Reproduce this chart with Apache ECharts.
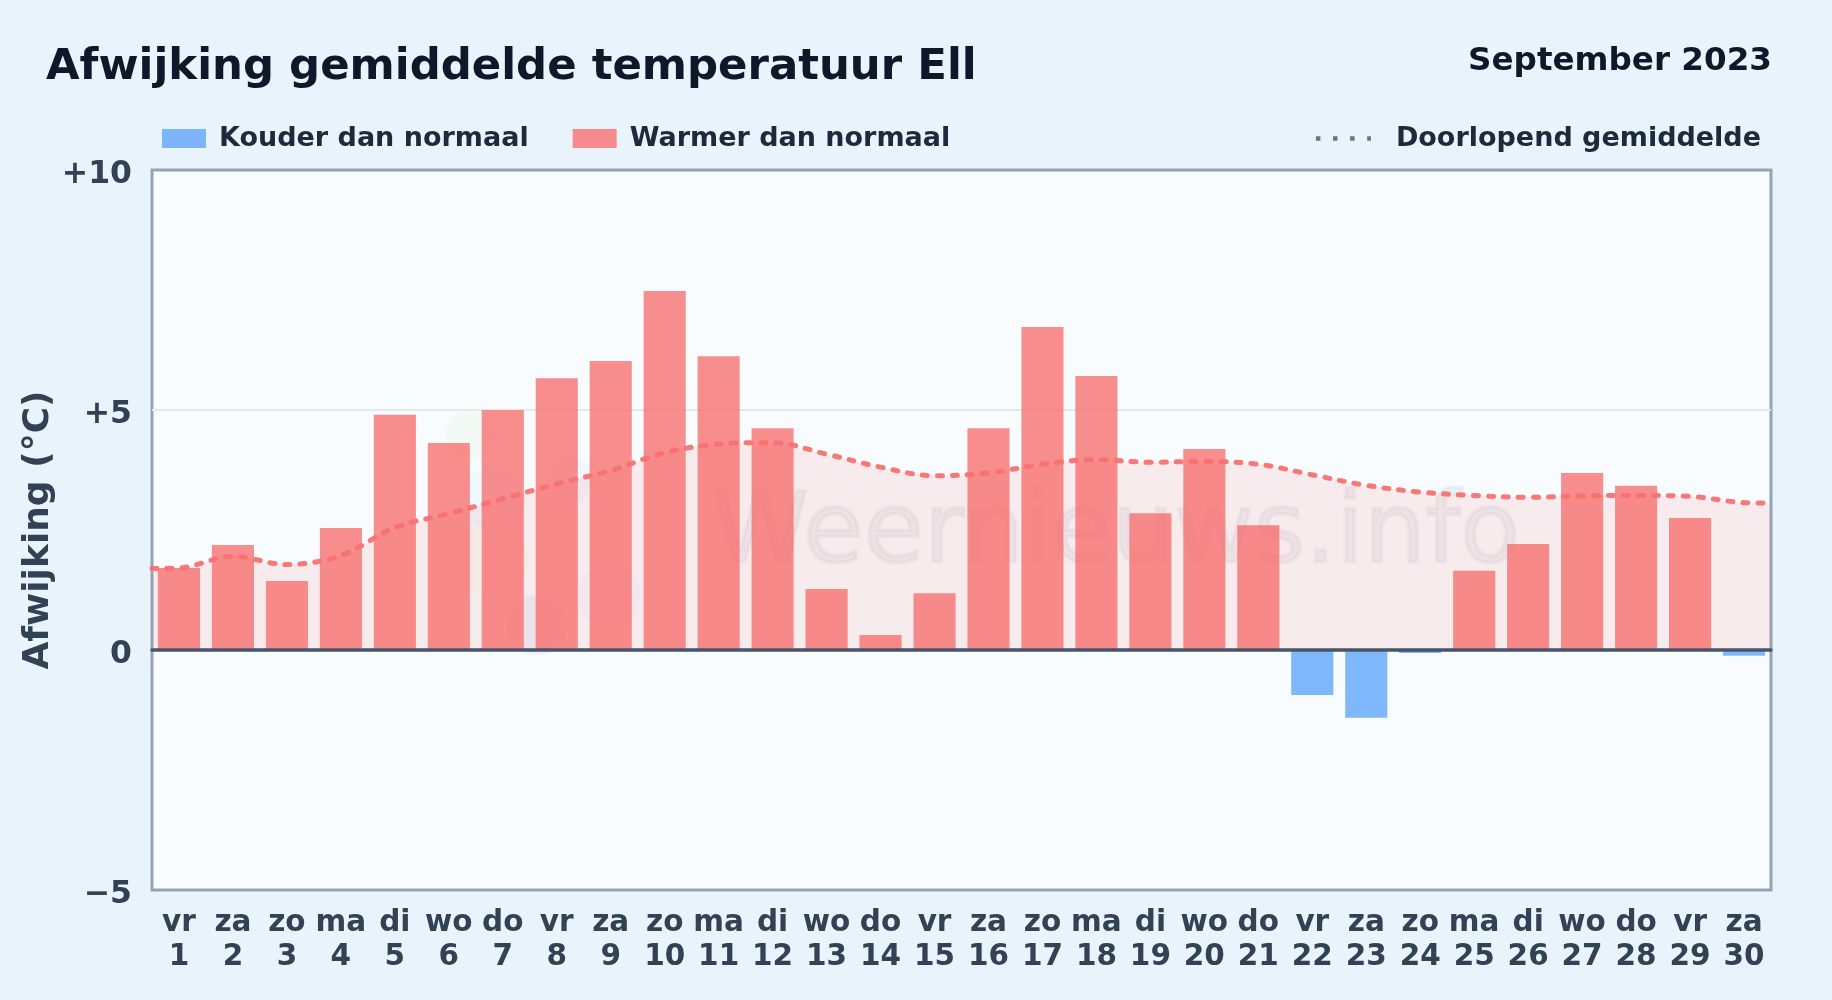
<!DOCTYPE html>
<html><head><meta charset="utf-8">
<style>html,body{margin:0;padding:0;background:#e8f3fc}#c{width:1832px;height:1000px}</style>
<script src="https://cdn.jsdelivr.net/npm/echarts@6/dist/echarts.min.js"></script>
</head><body><div id="c"></div>
<script>
const titleText = 'Afwijking gemiddelde temperatuur Ell';
const periodText = 'September 2023';
const weekdays = ['vr','za','zo','ma','di','wo','do','vr','za','zo','ma','di','wo','do','vr','za','zo','ma','di','wo','do','vr','za','zo','ma','di','wo','do','vr','za'];
const days = ['1','2','3','4','5','6','7','8','9','10','11','12','13','14','15','16','17','18','19','20','21','22','23','24','25','26','27','28','29','30'];
const deviations = [1.71,2.19,1.44,2.54,4.90,4.31,5.00,5.66,6.02,7.48,6.12,4.62,1.27,0.31,1.18,4.62,6.73,5.71,2.85,4.19,2.60,-0.94,-1.41,-0.06,1.65,2.21,3.69,3.42,2.75,-0.12];
const runningMean = [1.71,1.95,1.78,1.97,2.55,2.84,3.15,3.46,3.74,4.11,4.29,4.32,4.08,3.81,3.63,3.69,3.87,3.97,3.91,3.93,3.87,3.65,3.43,3.29,3.22,3.18,3.21,3.22,3.20,3.07];
const lineStartValue = 1.70, lineEndValue = 3.06;
const yTicks = {'10':'+10','5':'+5','0':'0','-5':'\u22125'};

const F = '"DejaVu Sans"';
const RED = 'rgba(248,113,113,0.8)', BLUE = 'rgba(96,165,250,0.8)';
const chart = echarts.init(document.getElementById('c'), null, {renderer:'canvas'});
const cats = weekdays.map((w,i)=>w+'\n'+days[i]);
const linePts = [[0.5,lineStartValue]].concat(runningMean.map((v,i)=>[i+1,v]),[[30.5,lineEndValue]]);
const blob = (cx,cy,r,fill)=>({type:'circle',z:1,silent:true,shape:{cx,cy,r},style:{fill,shadowBlur:18,shadowColor:fill}});
chart.setOption({
  animation:false,
  backgroundColor:'#e8f3fc',
  title:[
    {text:titleText,left:41,top:41,textStyle:{fontFamily:F,fontWeight:'bold',fontSize:43.4,color:'#0f172a'}},
    {text:periodText,right:55,top:40,textStyle:{fontFamily:F,fontWeight:'bold',fontSize:32.6,color:'#0f172a'}}
  ],
  legend:[
    {left:157,top:120,itemWidth:44,itemHeight:19,itemGap:44,icon:'rect',
     data:['Kouder dan normaal','Warmer dan normaal'],
     textStyle:{fontFamily:F,fontWeight:'bold',fontSize:27,color:'#1e293b',padding:[0,0,0,8]}},
    {right:66,top:120,itemWidth:55,itemHeight:19,
     data:[{name:'Doorlopend gemiddelde',itemStyle:{opacity:0}}],
     lineStyle:{color:'#64748b',width:4.5,type:[4.5,12.6],cap:'butt'},
     textStyle:{fontFamily:F,fontWeight:'bold',fontSize:27,color:'#1e293b',padding:[0,0,0,20]}}
  ],
  grid:{left:152,top:170,width:1619,height:720,show:true,backgroundColor:'#f8fcff',borderColor:'#94a3b8',borderWidth:3,containLabel:false},
  xAxis:[
    {type:'category',data:cats,position:'bottom',axisLine:{show:false,onZero:false},axisTick:{show:false},
     axisLabel:{interval:0,margin:16,fontFamily:F,fontWeight:'bold',fontSize:29.5,lineHeight:34,color:'#334155'},splitLine:{show:false}},
    {type:'value',min:0.5,max:30.5,show:true,position:'bottom',z:6,axisLine:{show:true,onZero:true,lineStyle:{color:'#475569',width:3.5}},
     axisTick:{show:false},axisLabel:{show:false},splitLine:{show:false}}
  ],
  yAxis:{type:'value',min:-5,max:10,interval:5,name:'Afwijking (°C)',nameLocation:'middle',nameGap:95,nameRotate:90,nameMoveOverlap:false,
    nameTextStyle:{fontFamily:F,fontWeight:'bold',fontSize:36,color:'#334155'},
    axisLine:{show:false},axisTick:{show:false},
    axisLabel:{margin:20,fontFamily:F,fontWeight:'bold',fontSize:31.5,color:'#334155',verticalAlign:'top',lineHeight:9,formatter:v=>yTicks[String(v)]},
    splitLine:{show:true,showMinLine:false,showMaxLine:false,lineStyle:{color:'#e2e8ec',width:2}}},
  series:[
    {name:'Kouder dan normaal',type:'bar',barWidth:'78%',barGap:'-100%',xAxisIndex:0,z:3,itemStyle:{color:BLUE},
     data:deviations.map(v=>v<0?v:null)},
    {name:'Warmer dan normaal',type:'bar',barWidth:'78%',barGap:'-100%',xAxisIndex:0,z:3,itemStyle:{color:RED},
     data:deviations.map(v=>v>=0?v:null)},
    {name:'Doorlopend gemiddelde',type:'line',xAxisIndex:1,z:4,smooth:0.35,showSymbol:false,symbol:'none',
     data:linePts,lineStyle:{color:'rgba(248,113,113,0.95)',width:5,type:[5,10],cap:'round'},
     areaStyle:{origin:0,color:'rgba(248,113,113,0.17)'}}
  ],
  graphic:[
    blob(470,435,25,'rgba(190,225,120,0.07)'),
    blob(493,498,32,'rgba(147,197,253,0.07)'),
    blob(490,560,38,'rgba(253,224,120,0.07)'),
    blob(570,480,24,'rgba(147,197,253,0.07)'),
    blob(537,625,30,'rgba(120,160,220,0.09)'),
    blob(608,596,32,'rgba(120,150,210,0.05)'),
    {type:'text',left:710,top:486,z:1,silent:true,style:{text:'Weernieuws.info',fontFamily:F,fontSize:98,fill:'rgba(100,116,139,0.08)',stroke:'rgba(100,116,139,0.05)',lineWidth:4}}
  ]
});
</script></body></html>
